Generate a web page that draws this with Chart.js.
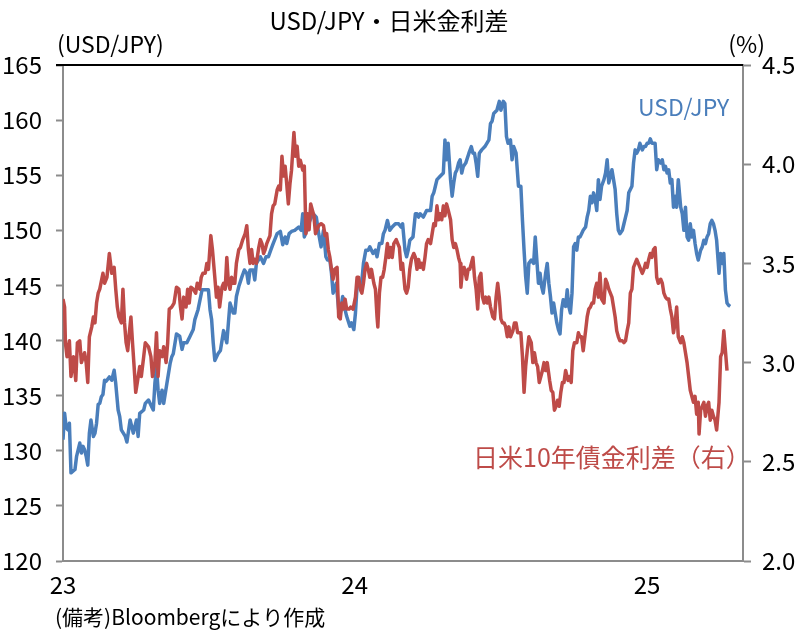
<!DOCTYPE html>
<html>
<head>
<meta charset="utf-8">
<script src="https://cdn.jsdelivr.net/npm/chart.js@4.4.1/dist/chart.umd.min.js"></script>
<style>
  html, body { margin: 0; padding: 0; background: #fff; }
</style>
</head>
<body>
<canvas id="chart" width="809" height="633"></canvas>
<script>
// days since 2023-01-01
const usdDays = [0,2,4,6,8,10,15,17,21,23,25,27,29,31,33,35,38,40,42,44,46,48,50,52,54,58,61,64,66,69,71,73,78,80,84,88,92,94,96,101,103,107,111,113,115,117,119,121,124,126,130,134,136,138,142,146,149,151,155,159,163,165,169,174,178,182,184,186,188,190,194,197,201,205,207,209,213,
  215,217,220,224,227,230,232,234,238,240,242,247,251,254,257,260,263,268,272,275,278,280,283,286,290,295,298,300,302,305,309,313,317,320,323,326,329,331,334,336,338,342,345,347,350,352,355,359,361,364,366,368,371,373,376,379,382,384,388,391,393,396,399,401,403,406,409,412,416,420,423,425,
  428,430,432,434,438,441,443,445,447,451,455,460,462,464,466,468,472,476,478,480,482,485,487,489,491,493,495,497,499,501,504,508,511,513,515,517,519,521,524,528,533,535,537,539,543,546,548,551,553,555,557,560,562,564,567,570,573,575,577,579,581,583,586,589,591,593,595,597,599,601,604,606,608,610,612,614,616,618,620,622,624,626,629,631,633,635,637,639,
  641,643,645,647,649,651,654,656,658,660,662,664,666,668,670,672,674,677,679,681,683,685,687,689,691,693,695,697,700,702,704,706,708,710,712,714,716,718,720,722,725,727,729,731,733,735,737,739,741,743,745,748,750,752,754,756,758,760,762,764,766,768,770,773,775,777,779,781,783,785,787,789,791,793,795,798,800,802,804,806,808,810,812,814,816,818,821,823,825,827,829,831,833,835]
const usdValues = [131.0,133.4,132.1,131.9,132.5,128.0,128.3,129.5,130.7,129.8,130.4,130.1,129.5,128.7,131.6,132.8,131.3,131.6,132.5,134.2,134.3,134.9,135.1,136.4,136.3,136.7,136.4,137.3,136.1,133.7,133.1,131.9,131.3,130.8,132.8,131.6,132.8,131.3,133.4,133.7,134.3,134.6,134.0,133.7,136.1,137.6,135.5,134.3,135.5,134.3,136.1,137.9,138.5,138.8,140.6,140.4,139.2,139.8,139.8,140.4,141.0,141.9,142.8,144.6,144.6,144.6,142.8,141.9,139.8,138.2,138.8,139.1,140.9,139.8,141.6,143.4,142.5,
  142.5,144.0,144.9,145.8,146.4,146.1,145.2,146.4,146.4,145.5,147.0,147.6,147.0,147.6,147.6,148.2,148.8,149.7,149.9,148.7,149.4,148.8,149.7,149.9,150.0,150.3,150.0,151.5,149.4,150.0,150.9,151.5,151.2,149.7,148.5,150.0,147.6,147.3,147.3,146.1,144.3,145.2,142.8,142.5,144.0,143.1,142.2,141.3,141.6,141.0,142.5,144.9,145.2,144.6,147.0,148.2,148.2,148.5,147.9,148.2,147.6,148.8,148.8,149.7,150.0,150.9,150.0,150.3,150.6,150.6,150.3,150.6,
  148.2,147.6,148.2,149.1,149.4,151.5,151.5,151.2,151.5,151.2,151.8,151.8,153.1,153.4,154.0,154.6,154.9,155.2,158.2,156.4,157.9,154.6,153.1,154.3,155.2,155.5,156.1,156.4,155.2,155.8,156.1,157.0,157.6,157.0,157.0,156.1,154.9,157.0,157.3,157.6,158.2,159.7,159.9,160.6,160.9,161.7,160.9,161.7,161.5,158.5,157.9,158.2,156.4,157.6,157.0,154.0,154.0,150.9,148.2,145.8,144.3,147.0,147.3,147.0,149.4,147.3,145.2,146.1,144.9,144.3,146.1,147.0,145.2,144.0,142.5,143.4,142.5,141.6,141.0,140.6,142.8,143.7,143.1,144.6,143.1,142.5,144.3,148.5,
  148.8,148.2,149.4,149.4,149.7,150.0,150.3,151.2,151.8,153.1,152.5,153.4,152.8,151.8,154.6,152.8,154.0,154.6,155.2,156.4,154.3,154.9,155.5,154.6,153.7,151.5,150.0,149.7,150.0,150.6,151.2,151.8,153.4,153.7,154.0,156.1,157.3,157.0,157.3,157.9,157.3,157.6,157.6,157.9,157.9,158.3,157.9,157.9,157.9,155.5,156.4,156.1,156.4,155.5,155.8,155.2,155.5,154.3,154.6,152.1,153.1,152.1,154.6,152.1,151.5,150.0,152.1,149.4,149.1,150.6,149.4,150.0,148.8,147.9,147.3,148.2,148.5,149.1,148.8,149.4,149.7,150.6,150.9,150.6,150.0,149.1,146.1,147.9,147.0,147.9,144.6,143.4,143.2,143.1]

const spreadDays = [0,2,3,5,8,10,13,16,18,21,23,27,29,31,33,36,38,40,42,44,46,50,52,55,58,61,64,66,68,70,73,75,77,79,81,83,85,87,89,91,93,96,98,101,103,107,110,112,115,117,119,121,124,126,129,131,133,136,139,142,145,147,149,151,154,156,158,160,163,166,168,171,173,175,178,180,182,185,187,190,192,194,196,199,201,203,205,207,209,211,213,
  215,217,220,222,225,228,230,232,234,236,238,240,242,245,247,249,251,253,255,257,259,261,263,265,268,270,272,274,276,278,280,282,284,286,289,291,293,295,297,300,302,304,306,308,310,312,314,316,318,320,323,326,328,330,332,334,336,338,340,343,345,347,349,351,353,355,358,360,363,366,368,370,372,374,376,378,380,382,384,386,389,391,393,394,396,398,400,402,404,406,408,410,412,414,417,419,421,423,425,
  428,430,432,434,436,439,441,443,445,447,449,451,453,455,457,460,462,464,466,468,470,472,474,476,478,480,482,485,487,489,491,493,495,497,498,500,502,505,507,509,511,513,515,517,519,521,523,525,527,529,531,533,535,538,540,542,544,546,548,550,552,554,556,558,560,563,565,567,569,571,573,575,577,579,581,583,586,588,590,592,594,596,598,600,602,604,606,609,611,613,615,617,619,621,623,625,627,629,632,634,636,638,640,
  641,643,645,647,649,651,654,656,658,660,662,664,666,668,670,672,674,677,679,681,683,685,687,689,691,693,695,697,700,702,704,706,708,710,712,714,716,718,720,722,725,727,729,731,733,735,737,739,741,743,745,748,750,752,754,756,758,760,762,764,766,768,770,773,775,777,779,781,783,785,787,789,791,793,795,796,798,800,802,804,806,808,810,812,814,816,818,821,823,825,827,829,831]
const spreadValues = [3.32,3.28,3.10,3.03,3.11,2.93,3.03,2.91,3.10,3.11,3.00,3.05,3.00,2.90,3.13,3.18,3.23,3.20,3.30,3.35,3.37,3.45,3.40,3.43,3.55,3.45,3.48,3.37,3.28,3.23,3.20,3.37,3.20,3.10,3.06,3.15,3.23,3.10,2.98,2.85,2.90,2.98,2.93,3.03,3.10,3.08,3.03,2.93,3.00,3.15,2.93,3.06,3.03,3.08,3.00,3.10,3.27,3.28,3.30,3.38,3.37,3.28,3.22,3.33,3.28,3.37,3.30,3.38,3.37,3.35,3.40,3.37,3.43,3.45,3.45,3.50,3.47,3.64,3.57,3.43,3.33,3.38,3.28,3.38,3.40,3.37,3.53,3.40,3.37,3.43,3.40,
  3.40,3.50,3.57,3.58,3.62,3.65,3.69,3.57,3.50,3.57,3.50,3.52,3.50,3.58,3.62,3.60,3.55,3.57,3.60,3.62,3.64,3.75,3.79,3.80,3.87,3.89,3.87,4.04,3.94,3.99,3.90,3.80,3.90,3.97,4.16,4.04,4.09,3.99,4.02,3.97,3.99,3.65,3.75,3.67,3.80,3.77,3.74,3.65,3.67,3.69,3.70,3.69,3.64,3.65,3.57,3.53,3.47,3.42,3.47,3.48,3.23,3.22,3.30,3.27,3.32,3.27,3.27,3.28,3.27,3.33,3.43,3.43,3.37,3.35,3.40,3.47,3.50,3.47,3.43,3.47,3.40,3.37,3.23,3.18,3.35,3.43,3.43,3.47,3.53,3.60,3.53,3.58,3.53,3.60,3.62,3.60,3.58,3.47,3.50,
  3.37,3.35,3.38,3.47,3.52,3.55,3.53,3.47,3.52,3.48,3.50,3.47,3.53,3.60,3.62,3.60,3.65,3.70,3.69,3.79,3.72,3.75,3.72,3.79,3.74,3.80,3.77,3.72,3.62,3.58,3.60,3.57,3.53,3.50,3.38,3.47,3.48,3.42,3.47,3.47,3.50,3.53,3.43,3.37,3.27,3.43,3.45,3.33,3.30,3.33,3.30,3.33,3.28,3.23,3.22,3.33,3.40,3.33,3.22,3.20,3.20,3.18,3.13,3.18,3.13,3.16,3.20,3.20,3.15,3.15,3.15,3.03,2.85,2.98,3.06,3.13,3.10,3.00,3.05,3.00,2.98,2.90,2.93,2.96,3.00,2.96,3.00,2.91,2.86,2.85,2.76,2.78,2.81,2.78,2.85,2.90,2.90,2.96,2.91,2.93,2.90,3.06,3.10,
  3.10,3.10,3.15,3.13,3.13,3.06,3.16,3.23,3.27,3.28,3.30,3.30,3.37,3.40,3.33,3.45,3.32,3.30,3.42,3.40,3.37,3.35,3.33,3.28,3.23,3.16,3.13,3.11,3.11,3.10,3.11,3.16,3.20,3.35,3.37,3.48,3.50,3.52,3.50,3.48,3.45,3.47,3.50,3.48,3.52,3.55,3.53,3.57,3.58,3.43,3.40,3.42,3.40,3.35,3.33,3.32,3.32,3.27,3.23,3.15,3.20,3.28,3.13,3.10,3.13,3.10,3.05,3.00,2.93,2.86,2.83,2.80,2.83,2.74,2.80,2.64,2.76,2.78,2.80,2.73,2.78,2.80,2.71,2.76,2.73,2.71,2.66,2.80,3.03,3.05,3.16,3.06,2.96]

const xTickDays = [0, 365, 731]
const xTickLabels = ['23', '24', '25']

const BLUE = '#4a7ebb'
const RED = '#be4b48'
const AXIS = '#8c8c8c'
const FONT = '"Noto Sans CJK JP", "Noto Sans", sans-serif'

const toPoints = (days, values) => days.map((d, i) => ({ x: d, y: values[i] }))

const textPlugin = {
  id: 'texts',
  afterDraw(chart) {
    const { ctx, chartArea: a } = chart
    ctx.save()
    // black frame line on top
    ctx.strokeStyle = '#000'
    ctx.lineWidth = 2
    ctx.beginPath()
    ctx.moveTo(a.left - 7, a.top)
    ctx.lineTo(a.right, a.top)
    ctx.stroke()

    ctx.textBaseline = 'middle'
    ctx.fillStyle = '#000'
    ctx.font = `24px ${FONT}`
    ctx.textAlign = 'center'
    ctx.fillText('USD/JPY・日米金利差', 389, 21)

    ctx.font = `23px ${FONT}`
    ctx.textAlign = 'left'
    ctx.fillText('(USD/JPY)', 57, 44)
    ctx.textAlign = 'right'
    ctx.fillText('(%)', 765, 44)
    ctx.font = `21px ${FONT}`
    ctx.textAlign = 'left'
    ctx.fillText('(備考)Bloombergにより作成', 55, 617)

    ctx.font = `23px ${FONT}`
    ctx.fillStyle = BLUE
    ctx.fillText('USD/JPY', 638, 107)
    ctx.font = `25px ${FONT}`
    ctx.fillStyle = RED
    ctx.fillText('日米10年債金利差（右）', 473, 457)
    ctx.restore()
  }
}

const tickFont = { family: FONT, size: 24 }

new Chart(document.getElementById('chart'), {
  type: 'line',
  data: {
    datasets: [
      {
        label: '日米10年債金利差（右）',
        data: toPoints(spreadDays, spreadValues),
        yAxisID: 'y2',
        borderColor: RED,
        borderWidth: 3.5,
        pointRadius: 0,
        borderJoinStyle: 'round',
        order: 0
      },
      {
        label: 'USD/JPY',
        data: toPoints(usdDays, usdValues),
        yAxisID: 'y',
        borderColor: BLUE,
        borderWidth: 3.5,
        pointRadius: 0,
        borderJoinStyle: 'round',
        order: 1
      }
    ]
  },
  options: {
    responsive: false,
    animation: false,
    layout: { padding: { top: 65, left: 0, right: 0, bottom: 0 } },
    plugins: {
      legend: { display: false },
      tooltip: { enabled: false }
    },
    scales: {
      x: {
        type: 'linear',
        min: 0,
        max: 851,
        grid: { drawOnChartArea: false, drawTicks: false },
        border: { color: AXIS, width: 2 },
        afterBuildTicks: (s) => { s.ticks = xTickDays.map(v => ({ value: v })) },
        afterFit: (s) => { s.height = 72 },
        ticks: {
          font: tickFont,
          color: '#000',
          padding: 9,
          maxRotation: 0,
          callback: (v) => xTickLabels[xTickDays.indexOf(v)]
        }
      },
      y: {
        position: 'left',
        min: 120,
        max: 165,
        grid: { drawOnChartArea: false, tickLength: 7, tickColor: AXIS, tickWidth: 2 },
        border: { color: AXIS, width: 2 },
        afterFit: (s) => { s.width = 63 },
        ticks: { stepSize: 5, font: tickFont, color: '#000', padding: 14 }
      },
      y2: {
        position: 'right',
        min: 2,
        max: 4.5,
        grid: { drawOnChartArea: false, tickLength: 8, tickColor: AXIS, tickWidth: 2 },
        border: { color: AXIS, width: 2 },
        afterFit: (s) => { s.width = 66 },
        ticks: {
          stepSize: 0.5,
          font: tickFont,
          color: '#000',
          padding: 11,
          callback: (v) => v.toFixed(1)
        }
      }
    }
  },
  plugins: [textPlugin]
})
</script>
</body>
</html>
